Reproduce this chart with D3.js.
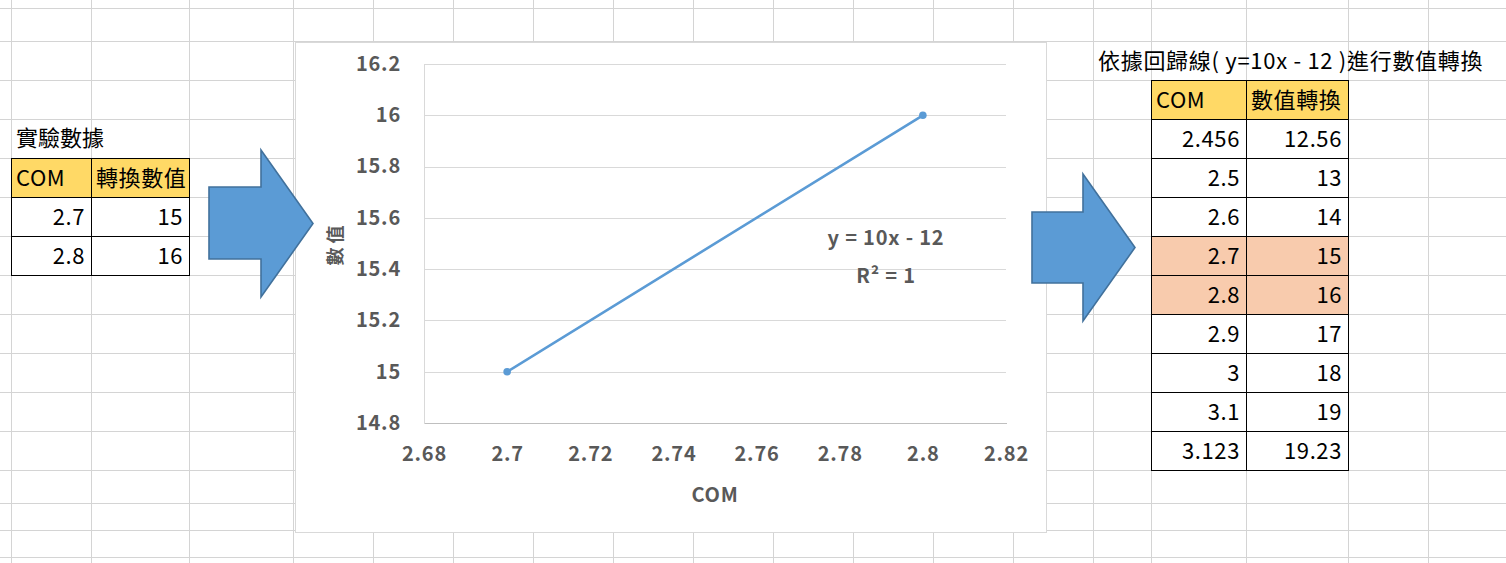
<!DOCTYPE html>
<html>
<head>
<meta charset="utf-8">
<script src="https://cdn.jsdelivr.net/npm/d3@7"></script>
<style>
  html, body { margin: 0; padding: 0; background: #ffffff; }
  svg { display: block; }
  text { font-family: "Noto Sans CJK TC", "Noto Sans", sans-serif; }
</style>
</head>
<body>
<svg id="chart" width="1506" height="563"></svg>
<script>
// ---------- data ----------
const comValues = [2.7, 2.8];
const seriesValues = [15, 16];
const xTickValues = [2.68, 2.70, 2.72, 2.74, 2.76, 2.78, 2.80, 2.82];
const yTickValues = [14.8, 15.0, 15.2, 15.4, 15.6, 15.8, 16.0, 16.2];
const xAxisTitle = "COM";
const yAxisTitle = "數值";
const trendEquation = "y = 10x - 12";
const trendR2 = "R² = 1";

const leftTitle = "實驗數據";
const leftHeaders = ["COM", "轉換數值"];
const leftCOM = ["2.7", "2.8"];
const leftValues = ["15", "16"];

const rightTitle = "依據回歸線( y=10x - 12 )進行數值轉換";
const rightHeaders = ["COM", "數值轉換"];
const rightCOM = ["2.456", "2.5", "2.6", "2.7", "2.8", "2.9", "3", "3.1", "3.123"];
const rightValues = ["12.56", "13", "14", "15", "16", "17", "18", "19", "19.23"];
const rightHighlight = [false, false, false, true, true, false, false, false, false];

// ---------- layout ----------
const W = 1506, H = 563;
const svg = d3.select("#chart");
const colLines = [11, 91, 189, 293, 373, 453, 533, 613, 693, 773, 853, 933, 1013, 1093, 1151, 1246, 1348, 1428];
const rowLines = [8, 41, 80, 119, 158, 197, 236, 275, 314, 353, 392, 431, 470, 503, 530, 557];

// spreadsheet gridlines
const grid = svg.append("g").attr("shape-rendering", "crispEdges");
grid.selectAll("line.v").data(colLines).join("line")
  .attr("x1", d => d + 0.5).attr("x2", d => d + 0.5)
  .attr("y1", 0).attr("y2", H)
  .attr("stroke", "#d4d4d4").attr("stroke-width", 1);
grid.selectAll("line.h").data(rowLines).join("line")
  .attr("x1", 0).attr("x2", W)
  .attr("y1", d => d + 0.5).attr("y2", d => d + 0.5)
  .attr("stroke", "#d4d4d4").attr("stroke-width", 1);

const cellFont = 22, cellSpacing = 0.6;

// generic table drawer
function drawTable(g, x0, colW, y0, rowH, headers, colA, colB, highlight) {
  const rows = colA.map((a, i) => ({ a, b: colB[i], hl: highlight ? highlight[i] : false }));
  headers.forEach((h, j) => {
    const cx = x0 + d3.sum(colW.slice(0, j));
    g.append("rect").attr("x", cx).attr("y", y0).attr("width", colW[j]).attr("height", rowH)
      .attr("fill", "#ffd966");
    g.append("text").attr("x", cx + 5).attr("y", y0 + rowH - 11)
      .attr("font-size", cellFont).attr("letter-spacing", cellSpacing).attr("fill", "#000").text(h);
  });
  rows.forEach((r, i) => {
    const ry = y0 + rowH * (i + 1);
    [r.a, r.b].forEach((v, j) => {
      const cx = x0 + d3.sum(colW.slice(0, j));
      g.append("rect").attr("x", cx).attr("y", ry).attr("width", colW[j]).attr("height", rowH)
        .attr("fill", r.hl ? "#f8cbad" : "#ffffff");
      g.append("text").attr("x", cx + colW[j] - 6).attr("y", ry + rowH - 11)
        .attr("text-anchor", "end").attr("font-size", cellFont).attr("letter-spacing", cellSpacing)
        .attr("fill", "#000").text(v);
    });
  });
  const totalW = d3.sum(colW), totalH = rowH * (rows.length + 1);
  const b = g.append("g").attr("shape-rendering", "crispEdges");
  for (let i = 0; i <= rows.length + 1; i++) {
    b.append("line").attr("x1", x0).attr("x2", x0 + totalW + 1)
      .attr("y1", y0 + rowH * i + 0.5).attr("y2", y0 + rowH * i + 0.5)
      .attr("stroke", "#000").attr("stroke-width", 1.3);
  }
  let acc = x0;
  [0, ...colW].forEach(w => {
    acc += w;
    b.append("line").attr("x1", acc + 0.5).attr("x2", acc + 0.5)
      .attr("y1", y0).attr("y2", y0 + totalH + 1)
      .attr("stroke", "#000").attr("stroke-width", 1.3);
  });
}

// left table
const leftG = svg.append("g");
leftG.append("text").attr("x", 16).attr("y", 146).attr("font-size", cellFont).attr("fill", "#000").text(leftTitle);
drawTable(leftG, 11, [80, 98], 158, 39, leftHeaders, leftCOM, leftValues, null);

// right table
const rightG = svg.append("g");
rightG.append("text").attr("x", 1098).attr("y", 69).attr("font-size", cellFont)
  .attr("letter-spacing", 0.7).attr("fill", "#000").text(rightTitle);
drawTable(rightG, 1151, [95, 102], 80, 39, rightHeaders, rightCOM, rightValues, rightHighlight);

// ---------- chart ----------
const chartG = svg.append("g");
chartG.append("rect").attr("x", 295.5).attr("y", 42.5).attr("width", 751).attr("height", 490)
  .attr("fill", "#ffffff").attr("stroke", "#d9d9d9").attr("stroke-width", 1);

const plot = { left: 424, right: 1006, top: 64, bottom: 423 };
const x = d3.scaleLinear().domain([2.68, 2.82]).range([plot.left, plot.right]);
const y = d3.scaleLinear().domain([14.8, 16.2]).range([plot.bottom, plot.top]);

// gridlines
chartG.append("g").attr("shape-rendering", "crispEdges")
  .selectAll("line").data(yTickValues).join("line")
  .attr("x1", plot.left).attr("x2", plot.right)
  .attr("y1", d => Math.round(y(d)) + 0.5).attr("y2", d => Math.round(y(d)) + 0.5)
  .attr("stroke", "#d9d9d9").attr("stroke-width", 1);

const fmt = d => String(+d.toFixed(2));
const labelFont = 20, labelSpacing = 0.8;

const yAxis = chartG.append("g").attr("transform", `translate(${plot.left},0)`)
  .call(d3.axisLeft(y).tickValues(yTickValues).tickSize(0).tickPadding(23).tickFormat(fmt));
yAxis.select(".domain").attr("stroke", "#d9d9d9").attr("shape-rendering", "crispEdges");
yAxis.selectAll("text").attr("font-size", labelFont).attr("letter-spacing", labelSpacing)
  .attr("font-weight", "bold").attr("fill", "#595959")
  .attr("font-family", '"Noto Sans CJK TC", sans-serif');

const xAxis = chartG.append("g").attr("transform", `translate(0,${plot.bottom})`)
  .call(d3.axisBottom(x).tickValues(xTickValues).tickSize(0).tickPadding(24).tickFormat(fmt));
xAxis.select(".domain").attr("stroke", "#bfbfbf").attr("shape-rendering", "crispEdges");
xAxis.selectAll("text").attr("font-size", labelFont).attr("letter-spacing", labelSpacing)
  .attr("font-weight", "bold").attr("fill", "#595959")
  .attr("font-family", '"Noto Sans CJK TC", sans-serif');

// axis titles
chartG.append("text").attr("x", (plot.left + plot.right) / 2).attr("y", 502)
  .attr("text-anchor", "middle").attr("font-size", labelFont).attr("letter-spacing", labelSpacing)
  .attr("font-weight", "bold").attr("fill", "#595959").text(xAxisTitle);
chartG.append("text")
  .attr("transform", `translate(342,${(plot.top + plot.bottom) / 2}) rotate(-90)`)
  .attr("text-anchor", "middle").attr("font-size", 18).attr("font-weight", "bold")
  .attr("letter-spacing", 4)
  .attr("fill", "#595959").text(yAxisTitle);

// series line
const pts = comValues.map((c, i) => [c, seriesValues[i]]);
chartG.append("path").datum(pts)
  .attr("d", d3.line().x(d => x(d[0])).y(d => y(d[1])))
  .attr("fill", "none").attr("stroke", "#5b9bd5").attr("stroke-width", 2.6).attr("stroke-linecap", "round");
chartG.selectAll("circle.pt").data(pts).join("circle")
  .attr("cx", d => x(d[0])).attr("cy", d => y(d[1])).attr("r", 3.8).attr("fill", "#5b9bd5");

// trendline label
chartG.append("text").attr("x", 886).attr("y", 245).attr("text-anchor", "middle")
  .attr("font-size", labelFont).attr("letter-spacing", labelSpacing)
  .attr("font-weight", "bold").attr("fill", "#595959").text(trendEquation);
chartG.append("text").attr("x", 886).attr("y", 283).attr("text-anchor", "middle")
  .attr("font-size", labelFont).attr("letter-spacing", labelSpacing)
  .attr("font-weight", "bold").attr("fill", "#595959").text(trendR2);

// ---------- arrows ----------
function arrow(x0, shaftTop, shaftBot, headX, headTop, headBot, tipX) {
  const tipY = (headTop + headBot) / 2;
  const p = [[x0, shaftTop], [headX, shaftTop], [headX, headTop], [tipX, tipY],
             [headX, headBot], [headX, shaftBot], [x0, shaftBot]];
  svg.append("path").attr("d", "M" + p.map(q => q.join(",")).join("L") + "Z")
    .attr("fill", "#5b9bd5").attr("stroke", "#41719c").attr("stroke-width", 1.6)
    .attr("stroke-linejoin", "miter");
}
arrow(209, 187, 259, 261, 150, 297, 313);
arrow(1032, 212, 283, 1083, 174, 321, 1135);
</script>
</body>
</html>
